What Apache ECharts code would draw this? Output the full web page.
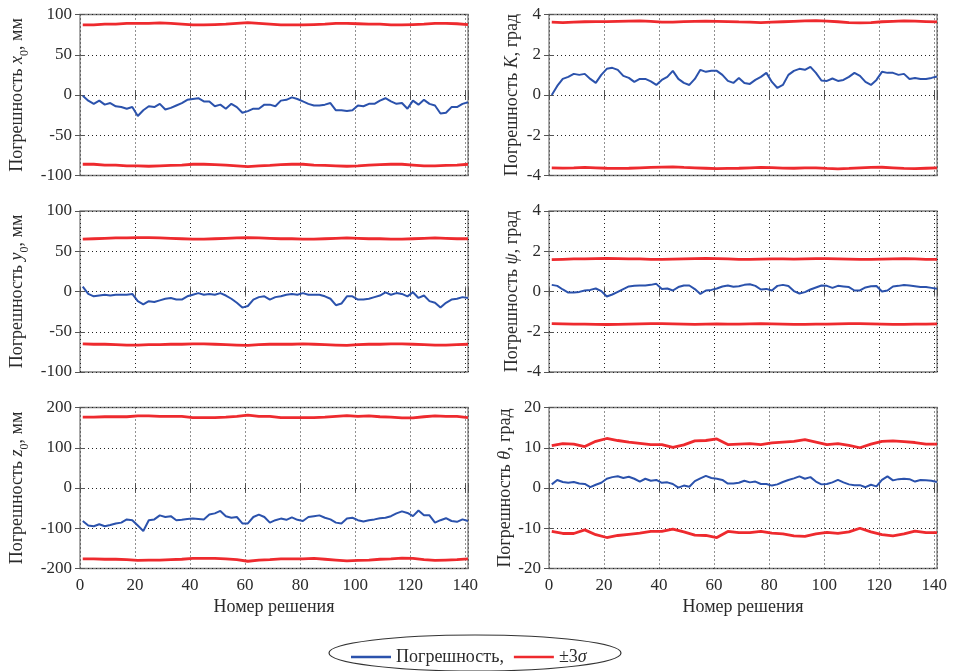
<!DOCTYPE html>
<html>
<head>
<meta charset="utf-8">
<script src="https://cdn.jsdelivr.net/npm/echarts@6/dist/echarts.min.js"></script>
<style>
html, body { margin: 0; padding: 0; background: #fff; }
#chart { width: 953px; height: 671px; }
</style>
</head>
<body>
<div id="chart"></div>
<script>
/** номера решений (синяя линия читалась через 2, красные через 4) */
var xs = [1, 3, 5, 7, 9, 11, 13, 15, 17, 19,
	21, 23, 25, 27, 29, 31, 33, 35, 37, 39,
	41, 43, 45, 47, 49, 51, 53, 55, 57, 59,
	61, 63, 65, 67, 69, 71, 73, 75, 77, 79,
	81, 83, 85, 87, 89, 91, 93, 95, 97, 99,
	101, 103, 105, 107, 109, 111, 113, 115, 117, 119,
	121, 123, 125, 127, 129, 131, 133, 135, 137, 139,
	141];
var xr = [1, 5, 9, 13, 17, 21, 25, 29, 33, 37,
	41, 45, 49, 53, 57, 61, 65, 69, 73, 77,
	81, 85, 89, 93, 97, 101, 105, 109, 113, 117,
	121, 125, 129, 133, 137, 141];

/** x0, мм */
var x0Err = [-1, -7, -11, -7, -12, -10, -14, -15, -17, -15,
	-26, -19, -14, -15, -11, -18, -16, -13, -10, -6,
	-5, -4, -8, -8, -14, -12, -17, -11, -15, -22,
	-20, -17, -17, -12, -12, -14, -7, -6, -3, -5,
	-8, -11, -13, -13, -12, -10, -19, -19, -20, -19,
	-13, -14, -11, -11, -7, -4, -8, -11, -10, -17,
	-7, -12, -6, -11, -13, -23, -22, -15, -15, -11,
	-9];
var x0Up = [87, 87, 88, 88, 89, 89, 89, 89.5, 89, 88,
	87, 87, 87.5, 88, 89, 90, 89, 88, 87, 87,
	87, 87.5, 88, 89, 89, 88.5, 88, 88, 87, 87,
	87.5, 88, 89, 89, 88.5, 87.5];
var x0Lo = [-86, -86, -87, -87, -88, -88, -88.5, -88, -87.5, -87,
	-86, -86, -86.5, -87, -88, -89, -88, -87.5, -86.5, -86,
	-86, -87, -87.5, -88, -88.5, -88, -87, -86.5, -86, -86,
	-87, -88, -88, -87.5, -87, -86];

/** K, град */
var kErr = [0.0, 0.45, 0.8, 0.9, 1.05, 1.0, 1.05, 0.8, 0.6, 1.0,
	1.3, 1.35, 1.25, 0.95, 0.85, 0.65, 0.8, 0.8, 0.68, 0.5,
	0.75, 0.9, 1.2, 0.8, 0.6, 0.5, 0.8, 1.25, 1.15, 1.2,
	1.2, 1.0, 0.7, 0.6, 0.85, 0.6, 0.55, 0.75, 0.9, 1.1,
	0.65, 0.35, 0.5, 1.0, 1.2, 1.3, 1.25, 1.4, 1.1, 0.72,
	0.7, 0.82, 0.7, 0.75, 0.9, 1.1, 0.95, 0.65, 0.5, 0.75,
	1.15, 1.1, 1.1, 1.0, 1.05, 0.8, 0.85, 0.8, 0.8, 0.85,
	0.92];
var kUp = [3.62, 3.6, 3.62, 3.64, 3.65, 3.65, 3.66, 3.67, 3.68, 3.66,
	3.62, 3.62, 3.65, 3.66, 3.67, 3.66, 3.65, 3.63, 3.62, 3.6,
	3.62, 3.64, 3.66, 3.68, 3.7, 3.67, 3.64, 3.6, 3.58, 3.6,
	3.64, 3.66, 3.68, 3.67, 3.65, 3.63];
var kLo = [-3.62, -3.63, -3.62, -3.6, -3.62, -3.64, -3.65, -3.64, -3.62, -3.6,
	-3.58, -3.57, -3.6, -3.62, -3.64, -3.66, -3.65, -3.64, -3.62, -3.6,
	-3.61, -3.63, -3.64, -3.62, -3.62, -3.65, -3.67, -3.65, -3.62, -3.6,
	-3.59, -3.62, -3.65, -3.66, -3.64, -3.62];

/** y0, мм */
var y0Err = [6, -3, -6, -5, -4, -5, -4, -4, -4, -3,
	-12, -16, -12, -13, -11, -9, -8, -10, -10, -6,
	-4, -2, -4, -3, -4, -2, -5, -9, -14, -20,
	-18, -10, -7, -6, -10, -7, -6, -4, -3, -4,
	-2, -4, -4, -4, -6, -9, -17, -15, -6, -6,
	-10, -10, -9, -7, -5, -1, -4, -2, -3, -6,
	-1, -8, -5, -12, -14, -20, -14, -10, -9, -7,
	-8];
var y0Up = [65, 65.5, 66, 66.5, 66.5, 67, 67, 66.5, 66, 65.5,
	65, 65, 65.5, 66, 66.5, 67, 66.5, 66, 65.5, 65.5,
	65, 65, 65.5, 66, 66.5, 66, 65.5, 65.5, 65, 65,
	65.5, 66, 66.5, 66, 65.5, 65.5];
var y0Lo = [-65, -65.5, -65.5, -66, -66.5, -66.5, -66, -66, -65.5, -65.5,
	-65, -65, -65.5, -66, -66.5, -67, -66, -65.5, -65.5, -65.5,
	-65, -65.5, -66, -66.5, -67, -66, -65.5, -65.5, -65, -65,
	-65.5, -66, -66.5, -66.5, -66, -65.5];

/** psi, град */
var psiErr = [0.33, 0.28, 0.1, -0.05, -0.05, -0.02, 0.05, 0.08, 0.15, 0.02,
	-0.25, -0.15, -0.02, 0.12, 0.25, 0.28, 0.3, 0.3, 0.33, 0.38,
	0.12, 0.15, 0.05, 0.22, 0.3, 0.3, 0.12, -0.12, 0.05, 0.08,
	0.15, 0.25, 0.3, 0.24, 0.26, 0.33, 0.36, 0.28, 0.1, 0.13,
	0.05, 0.28, 0.33, 0.27, 0.02, -0.1, -0.03, 0.1, 0.2, 0.3,
	0.28, 0.18, 0.28, 0.25, 0.22, 0.05, 0.05, 0.2, 0.26, 0.27,
	0.0, 0.05, 0.25, 0.28, 0.32, 0.3, 0.26, 0.22, 0.22, 0.18,
	0.14];
var psiUp = [1.58, 1.6, 1.62, 1.62, 1.63, 1.64, 1.63, 1.62, 1.62, 1.6,
	1.6, 1.61, 1.62, 1.63, 1.64, 1.63, 1.62, 1.6, 1.6, 1.61,
	1.62, 1.62, 1.61, 1.62, 1.63, 1.63, 1.62, 1.61, 1.6, 1.6,
	1.61, 1.62, 1.63, 1.62, 1.6, 1.6];
var psiLo = [-1.6, -1.61, -1.62, -1.62, -1.63, -1.64, -1.63, -1.62, -1.61, -1.6,
	-1.6, -1.61, -1.62, -1.63, -1.62, -1.61, -1.62, -1.62, -1.61, -1.6,
	-1.61, -1.62, -1.63, -1.63, -1.62, -1.62, -1.61, -1.6, -1.6, -1.61,
	-1.62, -1.63, -1.63, -1.62, -1.62, -1.61];

/** z0, мм */
var z0Err = [-82, -93, -95, -90, -95, -92, -88, -86, -78, -80,
	-93, -107, -80, -78, -68, -72, -70, -80, -79, -77,
	-76, -77, -78, -66, -63, -57, -70, -74, -72, -88,
	-88, -72, -66, -72, -86, -80, -76, -79, -73, -79,
	-82, -72, -70, -68, -74, -78, -86, -88, -76, -74,
	-80, -83, -80, -78, -75, -74, -70, -63, -58, -62,
	-70, -56, -68, -68, -86, -80, -75, -82, -84, -78,
	-82];
var z0Up = [176, 176, 177, 177, 177, 179, 179, 178, 178, 178,
	175, 175, 175, 176, 178, 181, 178, 178, 175, 175,
	175, 175, 176, 178, 180, 178, 179, 177, 176, 174,
	174, 177, 179, 178, 178, 175];
var z0Lo = [-176, -176, -177, -177, -178, -180, -179, -179, -178, -177,
	-175, -175, -175, -176, -178, -182, -179, -178, -176, -176,
	-176, -175, -177, -179, -181, -180, -179, -177, -176, -174,
	-175, -178, -180, -179, -178, -176];

/** theta, град */
var thErr = [0.9, 2.0, 1.5, 1.3, 1.5, 1.1, 1.0, 0.2, 0.8, 1.3,
	2.3, 2.7, 2.9, 2.5, 2.8, 2.3, 1.6, 2.3, 1.8, 2.0,
	1.3, 1.4, 1.0, 0.1, 0.6, 0.3, 1.7, 2.4, 3.0, 2.5,
	2.3, 2.0, 1.1, 1.1, 1.3, 1.8, 1.4, 1.6, 1.0, 1.0,
	0.6, 0.9, 1.5, 2.0, 2.4, 2.9, 2.3, 2.7, 1.6, 0.9,
	1.0, 1.4, 2.0, 1.4, 0.9, 0.7, 0.7, 0.2, 0.8, 0.4,
	2.0, 2.9, 1.9, 2.2, 2.3, 2.2, 1.6, 2.0, 1.9, 1.8,
	1.5];
var thUp = [10.5, 11.0, 10.9, 10.3, 11.6, 12.3, 11.8, 11.4, 11.1, 10.8,
	10.8, 10.1, 10.7, 11.7, 11.8, 12.2, 10.8, 10.9, 11.0, 10.8,
	11.2, 11.4, 11.6, 12.0, 11.4, 10.8, 11.0, 10.6, 10.0, 10.9,
	11.6, 11.7, 11.5, 11.3, 10.9, 10.9];
var thLo = [-10.8, -11.3, -11.3, -10.4, -11.6, -12.3, -11.8, -11.5, -11.2, -10.8,
	-10.8, -10.2, -10.9, -11.7, -11.8, -12.3, -10.8, -11.1, -11.1, -10.8,
	-11.2, -11.4, -11.9, -12.0, -11.4, -11.0, -11.3, -10.9, -10.0, -10.9,
	-11.6, -11.9, -11.4, -10.7, -11.1, -11.1];

/** подписи осей */
var xTitle = 'Номер решения';
var errName = 'Погрешность,';
var bandName = '±3σ';

var FONT = '"Liberation Serif", "DejaVu Serif", serif';
var TXT = '#2b2b2b';
var BLUE = '#2b52ac';
var RED = '#ee2a2e';

/** панели: порядок слева направо, сверху вниз */
var panels = [
	{ name: '{n|Погрешность }{i|x}{s|0}{n|, мм}', min: -100, max: 100, step: 50, err: x0Err, up: x0Up, lo: x0Lo },
	{ name: '{n|Погрешность }{i|K}{n|, град}', min: -4, max: 4, step: 2, err: kErr, up: kUp, lo: kLo },
	{ name: '{n|Погрешность }{i|y}{s|0}{n|, мм}', min: -100, max: 100, step: 50, err: y0Err, up: y0Up, lo: y0Lo },
	{ name: '{n|Погрешность }{i|ψ}{n|, град}', min: -4, max: 4, step: 2, err: psiErr, up: psiUp, lo: psiLo },
	{ name: '{n|Погрешность }{i|z}{s|0}{n|, мм}', min: -200, max: 200, step: 100, err: z0Err, up: z0Up, lo: z0Lo },
	{ name: '{n|Погрешность }{i|θ}{n|, град}', min: -20, max: 20, step: 10, err: thErr, up: thUp, lo: thLo }
];

var colLeft = [80, 549];
var rowTop = [14.5, 211, 407.5];
var plotW = 388, plotH = 161;

function zip(a, b) {
	var out = [];
	for (var i = 0; i < a.length; i++) out.push([a[i], b[i]]);
	return out;
}

var grids = [], xAxes = [], yAxes = [], series = [];
var labelStyle = { fontFamily: FONT, fontSize: 17, color: TXT };
var tickStyle = { show: true, inside: true, length: 5, lineStyle: { color: '#555', width: 1 } };
var richName = {
	n: { fontFamily: FONT, fontSize: 18, color: TXT, verticalAlign: 'top' },
	i: { fontFamily: FONT, fontSize: 18, fontStyle: 'italic', color: TXT, verticalAlign: 'top' },
	s: { fontFamily: FONT, fontSize: 12, color: TXT, verticalAlign: 'bottom', padding: [11, 0, 0, 0] }
};

panels.forEach(function(p, k) {
	var col = k % 2, row = Math.floor(k / 2), bottom = row === 2;
	grids.push({
		left: colLeft[col], top: rowTop[row], width: plotW, height: plotH,
		show: true, borderColor: '#7d7d7d', borderWidth: 1.3, backgroundColor: '#fff'
	});
	xAxes.push({
		type: 'value', gridIndex: k, min: 0, max: 141, interval: 20,
		axisLine: { show: false }, axisTick: tickStyle,
		axisLabel: {
			show: bottom, margin: 9, fontFamily: FONT, fontSize: 17, color: TXT,
			formatter: function(v) { return v % 20 === 0 ? String(v) : ''; }
		},
		splitLine: { show: true, lineStyle: { type: [1, 3], color: '#222', width: 1 } },
		name: bottom ? xTitle : '', nameLocation: 'middle', nameGap: 30,
		nameTextStyle: { fontFamily: FONT, fontSize: 18, color: TXT }
	});
	yAxes.push({
		type: 'value', gridIndex: k, min: p.min, max: p.max, interval: p.step,
		axisLine: { show: false }, axisTick: tickStyle,
		axisLabel: labelStyle,
		splitLine: { show: true, lineStyle: { type: [1, 3], color: '#222', width: 1 } },
		name: p.name, nameLocation: 'middle', nameRotate: 90, nameGap: col === 0 ? 49 : 28,
		nameTextStyle: { fontFamily: FONT, fontSize: 18, color: TXT, rich: richName }
	});
	series.push({
		name: errName, type: 'line', xAxisIndex: k, yAxisIndex: k,
		data: zip(xs, p.err), showSymbol: false, symbol: 'none', z: 3,
		lineStyle: { color: BLUE, width: 2 }, itemStyle: { color: BLUE }
	});
	series.push({
		name: bandName, type: 'line', xAxisIndex: k, yAxisIndex: k,
		data: zip(xr, p.up), showSymbol: false, symbol: 'none',
		lineStyle: { color: RED, width: 2.8 }, itemStyle: { color: RED }
	});
	series.push({
		name: bandName, type: 'line', xAxisIndex: k, yAxisIndex: k,
		data: zip(xr, p.lo), showSymbol: false, symbol: 'none',
		lineStyle: { color: RED, width: 2.8 }, itemStyle: { color: RED }
	});
});

/** засечки сверху и справа, как у рамки matlab */
panels.forEach(function(p, k) {
	xAxes.push({
		type: 'value', gridIndex: k, position: 'top', min: 0, max: 141, interval: 20,
		axisLine: { show: false }, axisTick: tickStyle, axisLabel: { show: false }, splitLine: { show: false }
	});
	yAxes.push({
		type: 'value', gridIndex: k, position: 'right', min: p.min, max: p.max, interval: p.step,
		axisLine: { show: false }, axisTick: tickStyle, axisLabel: { show: false }, splitLine: { show: false }
	});
});

var chart = echarts.init(document.getElementById('chart'));
chart.setOption({
	backgroundColor: '#fff',
	animation: false,
	grid: grids,
	xAxis: xAxes,
	yAxis: yAxes,
	series: series,
	legend: {
		data: [errName, bandName],
		left: 346, top: 643,
		icon: 'rect', itemWidth: 40, itemHeight: 2.5, itemGap: 10,
		textStyle: {
			fontFamily: FONT, fontSize: 18, color: TXT,
			rich: { i: { fontFamily: FONT, fontSize: 18, fontStyle: 'italic', color: TXT } }
		},
		formatter: function(name) {
			return name === bandName ? '±3{i|σ}' : name;
		}
	},
	graphic: [{
		type: 'ellipse', shape: { cx: 475, cy: 653, rx: 146, ry: 18 },
		style: { fill: 'none', stroke: '#333', lineWidth: 1.2 }, z: 0
	}]
});
</script>
</body>
</html>
